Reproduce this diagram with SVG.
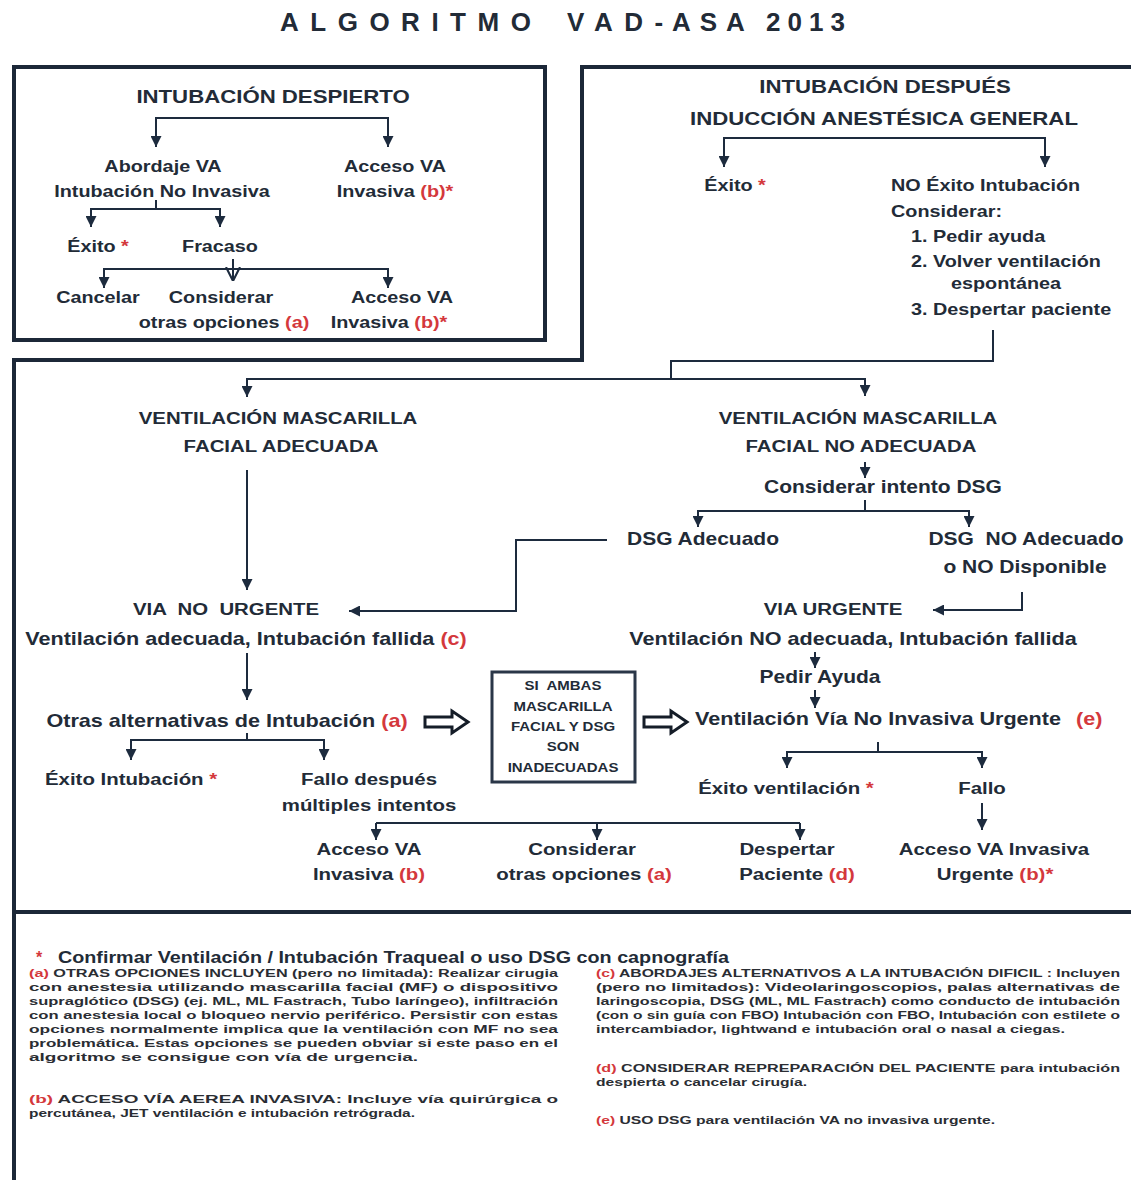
<svg xmlns="http://www.w3.org/2000/svg" width="1131" height="1180" viewBox="0 0 1131 1180">
<style>
.t{font-family:"Liberation Sans",Arial,sans-serif;font-weight:bold;fill:#222b37;text-anchor:middle}
.s{text-anchor:start}
.r{fill:#d4383c}
.ln{stroke:#1d2b3e;stroke-width:2;fill:none}
.box{stroke:#1c2838;stroke-width:4;fill:none}
.fn{font-family:"Liberation Sans",Arial,sans-serif;font-weight:bold;font-size:11px;fill:#2a2d33}
.blk{fill:#fff;stroke:#151d28;stroke-width:3;stroke-linejoin:miter}
</style>
<defs>
<marker id="ah" viewBox="0 0 10 10" refX="10" refY="5" markerWidth="11" markerHeight="11" markerUnits="userSpaceOnUse" orient="auto">
<path d="M0,0 L10,5 L0,10 z" fill="#1d2b3e"/>
</marker>
<marker id="av" viewBox="0 0 10 10" refX="10" refY="5" markerWidth="14" markerHeight="16" markerUnits="userSpaceOnUse" orient="auto">
<path d="M0,0 L10,5 L0,10" fill="none" stroke="#1d2b3e" stroke-width="1.5"/>
</marker>
</defs>
<rect width="1131" height="1180" fill="#ffffff"/>

<g id="title">
<text class="t s" font-size="26" x="280" y="31" letter-spacing="11.5">ALGORITMO</text>
<text class="t s" font-size="26" x="567" y="31" letter-spacing="11.5">VAD-</text>
<text class="t s" font-size="26" x="672" y="31" letter-spacing="9">ASA</text>
<text class="t s" font-size="26" x="766" y="31" letter-spacing="7">2013</text>
</g>

<g id="frames">
<rect class="box" x="14" y="67" width="531" height="273"/>
<path class="box" d="M14,1180 V360 H582 V67 H1131"/>
<line class="box" x1="14" y1="912" x2="1131" y2="912"/>
</g>

<g id="connectors">
<path class="ln" d="M272,118 H156 V147" marker-end="url(#ah)"/>
<path class="ln" d="M272,118 H388 V147" marker-end="url(#ah)"/>
<path class="ln" d="M156,200 V209 H91 V227" marker-end="url(#ah)"/>
<path class="ln" d="M156,209 H220 V227" marker-end="url(#ah)"/>
<path class="ln" d="M233,269 H104 V288" marker-end="url(#ah)"/>
<path class="ln" d="M233,269 H388 V288" marker-end="url(#ah)"/>
<path class="ln" d="M233,259 V281" marker-end="url(#av)"/>
<path class="ln" d="M884,138 H724 V167" marker-end="url(#ah)"/>
<path class="ln" d="M884,138 H1045 V167" marker-end="url(#ah)"/>
<path class="ln" d="M993,330 V361 H671 V379"/>
<path class="ln" d="M671,379 H247 V397" marker-end="url(#ah)"/>
<path class="ln" d="M671,379 H865 V396" marker-end="url(#ah)"/>
<path class="ln" d="M247,470 V590" marker-end="url(#ah)"/>
<path class="ln" d="M607,540 H516 V611 H349" marker-end="url(#ah)"/>
<path class="ln" d="M865,462 V478" marker-end="url(#ah)"/>
<path class="ln" d="M865,500 V511 H698 V527" marker-end="url(#ah)"/>
<path class="ln" d="M865,511 H969 V527" marker-end="url(#ah)"/>
<path class="ln" d="M1022,592 V610 H933" marker-end="url(#ah)"/>
<path class="ln" d="M815,652 V668" marker-end="url(#ah)"/>
<path class="ln" d="M815,690 V708" marker-end="url(#ah)"/>
<path class="ln" d="M247,653 V700" marker-end="url(#ah)"/>
<path class="ln" d="M247,733 V740 H131 V760" marker-end="url(#ah)"/>
<path class="ln" d="M247,740 H324 V760" marker-end="url(#ah)"/>
<path class="ln" d="M878,742 V752 H787 V768" marker-end="url(#ah)"/>
<path class="ln" d="M878,752 H982 V768" marker-end="url(#ah)"/>
<path class="ln" d="M982,803 V830" marker-end="url(#ah)"/>
<path class="ln" d="M376,823 H800"/>
<path class="ln" d="M376,823 V840" marker-end="url(#ah)"/>
<path class="ln" d="M597,823 V840" marker-end="url(#ah)"/>
<path class="ln" d="M800,823 V840" marker-end="url(#ah)"/>
<polygon class="blk" points="425,717 452,717 452,711 468,722 452,733 452,727 425,727"/>
<polygon class="blk" points="644,717 671,717 671,711 687,722 671,733 671,727 644,727"/>
</g>

<g id="n-despierto">
<text class="t" font-size="18.5" transform="translate(273 103) scale(1.2 1)">INTUBACIÓN DESPIERTO</text>
</g>
<g id="n-abordaje">
<text class="t" font-size="16.5" transform="translate(163 172) scale(1.2 1)">Abordaje VA</text>
<text class="t" font-size="16.5" transform="translate(162 197) scale(1.2 1)">Intubación No Invasiva</text>
</g>
<g id="n-acceso1">
<text class="t" font-size="16.5" transform="translate(395 172) scale(1.2 1)">Acceso VA</text>
<text class="t" font-size="16.5" transform="translate(395 197) scale(1.2 1)">Invasiva <tspan class="r">(b)*</tspan></text>
</g>
<g id="n-exito1">
<text class="t" font-size="16.5" transform="translate(98 252) scale(1.2 1)">Éxito <tspan class="r">*</tspan></text>
</g>
<g id="n-fracaso">
<text class="t" font-size="16.5" transform="translate(220 252) scale(1.2 1)">Fracaso</text>
</g>
<g id="n-cancelar">
<text class="t" font-size="16.5" transform="translate(98 303) scale(1.2 1)">Cancelar</text>
</g>
<g id="n-considerar1">
<text class="t" font-size="16.5" transform="translate(221 303) scale(1.2 1)">Considerar</text>
<text class="t" font-size="16.5" transform="translate(224 328) scale(1.2 1)">otras opciones <tspan class="r">(a)</tspan></text>
</g>
<g id="n-acceso2">
<text class="t" font-size="16.5" transform="translate(402 303) scale(1.2 1)">Acceso VA</text>
<text class="t" font-size="16.5" transform="translate(389 328) scale(1.2 1)">Invasiva <tspan class="r">(b)*</tspan></text>
</g>

<g id="n-induccion">
<text class="t" font-size="18.5" transform="translate(885 93) scale(1.2 1)">INTUBACIÓN DESPUÉS</text>
<text class="t" font-size="18.5" transform="translate(884 125) scale(1.2 1)">INDUCCIÓN ANESTÉSICA GENERAL</text>
</g>
<g id="n-exito2">
<text class="t" font-size="16.5" transform="translate(735 191) scale(1.2 1)">Éxito <tspan class="r">*</tspan></text>
</g>
<g id="n-noexito">
<text class="t s" font-size="16.5" transform="translate(891 191) scale(1.2 1)">NO Éxito Intubación</text>
<text class="t s" font-size="16.5" transform="translate(891 217) scale(1.2 1)">Considerar:</text>
<text class="t s" font-size="16.5" transform="translate(911 242) scale(1.2 1)">1. Pedir ayuda</text>
<text class="t s" font-size="16.5" transform="translate(911 267) scale(1.2 1)">2. Volver ventilación</text>
<text class="t" font-size="16.5" transform="translate(1006 289) scale(1.2 1)">espontánea</text>
<text class="t s" font-size="16.5" transform="translate(911 315) scale(1.2 1)">3. Despertar paciente</text>
</g>

<g id="n-vmf-adecuada">
<text class="t" font-size="17" transform="translate(278 424) scale(1.2 1)">VENTILACIÓN MASCARILLA</text>
<text class="t" font-size="17" transform="translate(281 452) scale(1.2 1)">FACIAL ADECUADA</text>
</g>
<g id="n-vmf-noadecuada">
<text class="t" font-size="17" transform="translate(858 424) scale(1.2 1)">VENTILACIÓN MASCARILLA</text>
<text class="t" font-size="17" transform="translate(861 452) scale(1.2 1)">FACIAL NO ADECUADA</text>
</g>
<g id="n-intento-dsg">
<text class="t" font-size="17.5" transform="translate(883 493) scale(1.2 1)">Considerar intento DSG</text>
</g>
<g id="n-dsg-adecuado">
<text class="t" font-size="17.5" transform="translate(703 545) scale(1.2 1)">DSG Adecuado</text>
</g>
<g id="n-dsg-noadecuado">
<text class="t" font-size="17.5" xml:space="preserve" transform="translate(1026 545) scale(1.2 1)">DSG  NO Adecuado</text>
<text class="t" font-size="17.5" transform="translate(1025 573) scale(1.2 1)">o NO Disponible</text>
</g>
<g id="n-via-nourgente">
<text class="t" font-size="17" xml:space="preserve" transform="translate(226 615) scale(1.2 1)">VIA  NO  URGENTE</text>
<text class="t" font-size="18" transform="translate(246 645) scale(1.2 1)">Ventilación adecuada, Intubación fallida <tspan class="r">(c)</tspan></text>
</g>
<g id="n-via-urgente">
<text class="t" font-size="17" transform="translate(833 615) scale(1.2 1)">VIA URGENTE</text>
<text class="t" font-size="18" transform="translate(853 645) scale(1.2 1)">Ventilación NO adecuada, Intubación fallida</text>
</g>
<g id="n-pedir-ayuda">
<text class="t" font-size="17.5" transform="translate(820 683) scale(1.2 1)">Pedir Ayuda</text>
</g>
<g id="n-otras-alt">
<text class="t" font-size="18" transform="translate(227 727) scale(1.2 1)">Otras alternativas de Intubación <tspan class="r">(a)</tspan></text>
</g>
<g id="n-si-ambas">
<rect x="492" y="672" width="143" height="110" fill="none" stroke="#2a3748" stroke-width="3"/>
<text class="t" font-size="12.5" xml:space="preserve" transform="translate(563 690) scale(1.2 1)">SI  AMBAS</text>
<text class="t" font-size="12.5" transform="translate(563 711) scale(1.2 1)">MASCARILLA</text>
<text class="t" font-size="12.5" transform="translate(563 731) scale(1.2 1)">FACIAL Y DSG</text>
<text class="t" font-size="12.5" transform="translate(563 751) scale(1.2 1)">SON</text>
<text class="t" font-size="12.5" transform="translate(563 772) scale(1.2 1)">INADECUADAS</text>
</g>
<g id="n-vni-urgente">
<text class="t" font-size="18" transform="translate(878 725) scale(1.2 1)">Ventilación Vía No Invasiva Urgente</text>
<text class="t s r" font-size="18" transform="translate(1076 725) scale(1.2 1)">(e)</text>
</g>
<g id="n-exito-int">
<text class="t s" font-size="17" transform="translate(45 785) scale(1.2 1)">Éxito Intubación <tspan class="r">*</tspan></text>
</g>
<g id="n-fallo-multi">
<text class="t" font-size="17" transform="translate(369 785) scale(1.2 1)">Fallo después</text>
<text class="t" font-size="17" transform="translate(369 811) scale(1.2 1)">múltiples intentos</text>
</g>
<g id="n-exito-vent">
<text class="t" font-size="17" transform="translate(786 794) scale(1.2 1)">Éxito ventilación <tspan class="r">*</tspan></text>
</g>
<g id="n-fallo">
<text class="t" font-size="17" transform="translate(982 794) scale(1.2 1)">Fallo</text>
</g>
<g id="n-acceso3">
<text class="t" font-size="17" transform="translate(369 855) scale(1.2 1)">Acceso VA</text>
<text class="t" font-size="17" transform="translate(369 880) scale(1.2 1)">Invasiva <tspan class="r">(b)</tspan></text>
</g>
<g id="n-considerar2">
<text class="t" font-size="17" transform="translate(582 855) scale(1.2 1)">Considerar</text>
<text class="t" font-size="17" transform="translate(584 880) scale(1.2 1)">otras opciones <tspan class="r">(a)</tspan></text>
</g>
<g id="n-despertar">
<text class="t" font-size="17" transform="translate(787 855) scale(1.2 1)">Despertar</text>
<text class="t" font-size="17" transform="translate(797 880) scale(1.2 1)">Paciente <tspan class="r">(d)</tspan></text>
</g>
<g id="n-acceso-urg">
<text class="t" font-size="17" transform="translate(994 855) scale(1.2 1)">Acceso VA Invasiva</text>
<text class="t" font-size="17" transform="translate(995 880) scale(1.2 1)">Urgente <tspan class="r">(b)*</tspan></text>
</g>

<g id="notes">
<text class="t s r" font-size="16" x="36" y="963">*</text>
<text class="t s" font-size="16" x="58" y="963" textLength="671" lengthAdjust="spacingAndGlyphs">Confirmar Ventilación / Intubación Traqueal o uso DSG con capnografía</text>

<text class="fn" x="29" y="977" textLength="529" lengthAdjust="spacingAndGlyphs"><tspan class="r">(a)</tspan> OTRAS OPCIONES INCLUYEN (pero no limitada): Realizar cirugia</text>
<text class="fn" x="29" y="991" textLength="529" lengthAdjust="spacingAndGlyphs">con anestesia utilizando mascarilla facial (MF) o dispositivo</text>
<text class="fn" x="29" y="1005" textLength="529" lengthAdjust="spacingAndGlyphs">supraglótico (DSG) (ej. ML, ML Fastrach, Tubo laríngeo), infiltración</text>
<text class="fn" x="29" y="1019" textLength="529" lengthAdjust="spacingAndGlyphs">con anestesia local o  bloqueo nervio periférico. Persistir con estas</text>
<text class="fn" x="29" y="1033" textLength="529" lengthAdjust="spacingAndGlyphs">opciones normalmente implica que la ventilación con MF no sea</text>
<text class="fn" x="29" y="1047" textLength="529" lengthAdjust="spacingAndGlyphs">problemática. Estas opciones se pueden obviar si este paso en el</text>
<text class="fn" x="29" y="1061" textLength="389" lengthAdjust="spacingAndGlyphs">algoritmo se consigue con vía de urgencia.</text>
<text class="fn" x="29" y="1103" textLength="529" lengthAdjust="spacingAndGlyphs"><tspan class="r">(b)</tspan> ACCESO VÍA AEREA INVASIVA:  Incluye vía quirúrgica o</text>
<text class="fn" x="29" y="1117" textLength="386" lengthAdjust="spacingAndGlyphs">percutánea, JET ventilación e intubación retrógrada.</text>

<text class="fn" x="596" y="977" textLength="524" lengthAdjust="spacingAndGlyphs"><tspan class="r">(c)</tspan> ABORDAJES ALTERNATIVOS A LA INTUBACIÓN DIFICIL : Incluyen</text>
<text class="fn" x="596" y="991" textLength="524" lengthAdjust="spacingAndGlyphs">(pero no limitados): Videolaringoscopios, palas alternativas de</text>
<text class="fn" x="596" y="1005" textLength="524" lengthAdjust="spacingAndGlyphs">laringoscopia, DSG (ML, ML Fastrach) como conducto de intubación</text>
<text class="fn" x="596" y="1019" textLength="524" lengthAdjust="spacingAndGlyphs">(con o sin guía con FBO) Intubación con FBO, Intubación con estilete o</text>
<text class="fn" x="596" y="1033" textLength="469" lengthAdjust="spacingAndGlyphs">intercambiador, lightwand e intubación oral o nasal a ciegas.</text>
<text class="fn" x="596" y="1072" textLength="524" lengthAdjust="spacingAndGlyphs"><tspan class="r">(d)</tspan> CONSIDERAR REPREPARACIÓN DEL PACIENTE para intubación</text>
<text class="fn" x="596" y="1086" textLength="211" lengthAdjust="spacingAndGlyphs">despierta o cancelar cirugía.</text>
<text class="fn" x="596" y="1124" textLength="399" lengthAdjust="spacingAndGlyphs"><tspan class="r">(e)</tspan> USO DSG para ventilación VA no invasiva urgente.</text>
</g>
</svg>
